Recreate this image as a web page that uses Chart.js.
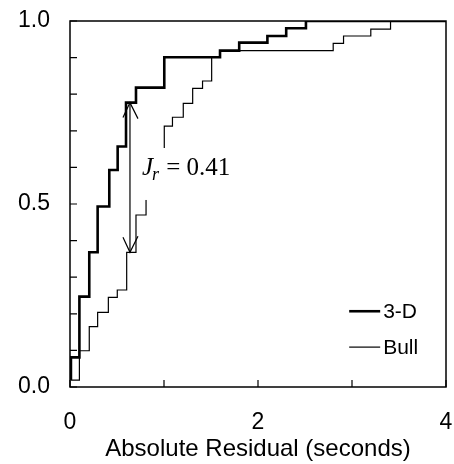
<!DOCTYPE html>
<html>
<head>
<meta charset="utf-8">
<script src="https://cdn.jsdelivr.net/npm/chart.js@4.4.1/dist/chart.umd.min.js"></script>
<style>
	html, body { margin: 0; padding: 0; background: #fff; }
	#wrap { width: 454px; height: 464px; }
</style>
</head>
<body>
<div id="wrap"><canvas id="cdf"></canvas></div>
<script>
// step corners: at x the curve jumps up to y
var d3X = [0.01, 0.01, 0.10, 0.205, 0.294, 0.418, 0.507, 0.596, 0.702, 1.003, 1.596, 1.80, 2.10, 2.30, 2.51, 4.0];
var d3Y = [0.019, 0.081, 0.247, 0.368, 0.493, 0.593, 0.657, 0.777, 0.818, 0.901, 0.919, 0.941, 0.959, 0.980, 1.0, 1.0];
var bullX = [0.01, 0.10, 0.205, 0.294, 0.408, 0.503, 0.603, 0.702, 0.809, 1.003, 1.09, 1.205, 1.305, 1.41, 1.507, 1.596, 2.80, 2.91, 3.20, 3.41, 4.0];
var bullY = [0.019, 0.099, 0.165, 0.204, 0.245, 0.265, 0.368, 0.470, 0.580, 0.713, 0.737, 0.775, 0.816, 0.836, 0.901, 0.919, 0.939, 0.959, 0.978, 1.0, 1.0];
var seriesNames = ["3-D", "Bull"];
var xTickLabels = [0, 2, 4];
var yTickLabels = [0.0, 0.5, 1.0];

// the J_r arrow: x, top and bottom of the gap
var jrX = 0.638;
var jrTop = 0.777;
var jrBottom = 0.368;
var jrValue = "0.41";

function toPoints(xs, ys) {
	var pts = [];
	for (var i = 0; i < xs.length; i++)
		pts.push({x: xs[i], y: ys[i]});
	return pts;
}

var sansFont = "'Liberation Sans', Arial, sans-serif";
var serifFont = "'Liberation Serif', 'Times New Roman', serif";

function arrowHead(ctx, x, y, dir) {
	// open V head, dir = -1 points up, +1 points down
	ctx.beginPath();
	ctx.moveTo(x - 7, y - dir * 15);
	ctx.lineTo(x, y);
	ctx.lineTo(x + 8, y - dir * 16);
	ctx.stroke();
}

// keep the plot box where the figure has it, no extra room for edge labels
function noEdgePadding(s) {
	s.paddingLeft = 0;
	s.paddingRight = 0;
	s.paddingTop = 0;
	s.paddingBottom = 0;
}

var decor = {
	id: "decor",
	afterDatasetsDraw: function(chart) {
		var ctx = chart.ctx;
		var a = chart.chartArea;
		var xs = chart.scales.x, ys = chart.scales.y;
		ctx.save();
		ctx.strokeStyle = "#000";

		// white box behind the label hides part of the Bull curve, as in the print
		var bx0 = xs.getPixelForValue(0.745), bx1 = xs.getPixelForValue(1.77);
		var by0 = ys.getPixelForValue(0.653), by1 = ys.getPixelForValue(0.511);
		ctx.fillStyle = "#fff";
		ctx.fillRect(bx0, by0, bx1 - bx0, by1 - by0);

		// frame
		ctx.lineWidth = 1.5;
		ctx.strokeRect(a.left, a.top, a.right - a.left, a.bottom - a.top);

		// inward tick marks
		ctx.lineWidth = 1.2;
		ctx.beginPath();
		xs.ticks.forEach(function(t) {
			var px = xs.getPixelForValue(t.value);
			ctx.moveTo(px, a.bottom);
			ctx.lineTo(px, a.bottom - 7);
		});
		ys.ticks.forEach(function(t) {
			var py = ys.getPixelForValue(t.value);
			ctx.moveTo(a.left, py);
			ctx.lineTo(a.left + 7, py);
		});
		ctx.stroke();

		// J_r double arrow
		var ax = xs.getPixelForValue(jrX);
		var aTop = ys.getPixelForValue(jrTop), aBot = ys.getPixelForValue(jrBottom);
		ctx.lineWidth = 1.2;
		ctx.beginPath();
		ctx.moveTo(ax, aTop);
		ctx.lineTo(ax, aBot);
		ctx.stroke();
		arrowHead(ctx, ax, aTop, -1);
		arrowHead(ctx, ax, aBot, 1);

		// J_r label
		ctx.fillStyle = "#000";
		ctx.textBaseline = "alphabetic";
		ctx.textAlign = "left";
		var lx = xs.getPixelForValue(0.765);
		var ly = ys.getPixelForValue(0.58);
		ctx.font = "italic 25px " + serifFont;
		ctx.fillText("J", lx, ly);
		var w = ctx.measureText("J").width;
		ctx.font = "italic 18px " + serifFont;
		ctx.fillText("r", lx + w - 1, ly + 5);
		w += ctx.measureText("r").width;
		ctx.font = "25px " + serifFont;
		ctx.fillText(" = " + jrValue, lx + w, ly);

		// legend, bottom right inside the frame
		var lgx = xs.getPixelForValue(2.97);
		chart.data.datasets.forEach(function(ds, i) {
			var y = ys.getPixelForValue(0.207 - i * 0.098);
			ctx.lineWidth = ds.borderWidth;
			ctx.beginPath();
			ctx.moveTo(lgx, y);
			ctx.lineTo(lgx + 31, y);
			ctx.stroke();
			ctx.font = "21px " + sansFont;
			ctx.textBaseline = "middle";
			ctx.fillText(ds.label, lgx + 34, y + 1);
		});
		ctx.restore();
	}
};

new Chart(document.getElementById("cdf"), {
	type: "line",
	data: {
		datasets: [{
			label: seriesNames[0],
			data: toPoints(d3X, d3Y),
			stepped: "before",
			borderColor: "#000",
			borderWidth: 2.6,
			pointRadius: 0,
			fill: false
		}, {
			label: seriesNames[1],
			data: toPoints(bullX, bullY),
			stepped: "before",
			borderColor: "#000",
			borderWidth: 1.2,
			pointRadius: 0,
			fill: false
		}]
	},
	options: {
		responsive: true,
		maintainAspectRatio: false,
		animation: false,
		layout: { padding: { left: 0, right: 8, top: 21, bottom: 0 } },
		plugins: { legend: { display: false }, tooltip: { enabled: false } },
		scales: {
			x: {
				type: "linear",
				min: 0,
				max: 4,
				grid: { display: false, drawTicks: false },
				border: { display: false },
				ticks: {
					stepSize: 1,
					autoSkip: false,
					maxRotation: 0,
					padding: 22,
					color: "#000",
					font: { family: sansFont, size: 23 },
					callback: function(v) { return xTickLabels.indexOf(v) >= 0 ? String(v) : ""; }
				},
				title: {
					display: true,
					text: "Absolute Residual (seconds)",
					color: "#000",
					font: { family: sansFont, size: 24 },
					padding: { top: 0, bottom: 0 }
				},
				afterFit: function(s) { s.height = 77; noEdgePadding(s); }
			},
			y: {
				min: 0,
				max: 1,
				grid: { display: false, drawTicks: false },
				border: { display: false },
				ticks: {
					stepSize: 0.1,
					autoSkip: false,
					padding: 20,
					color: "#000",
					font: { family: sansFont, size: 23 },
					callback: function(v) {
						for (var i = 0; i < yTickLabels.length; i++)
							if (Math.abs(v - yTickLabels[i]) < 1e-6) return yTickLabels[i].toFixed(1);
						return "";
					}
				},
				afterFit: function(s) { s.width = 70; noEdgePadding(s); }
			}
		}
	},
	plugins: [decor]
});
</script>
</body>
</html>
